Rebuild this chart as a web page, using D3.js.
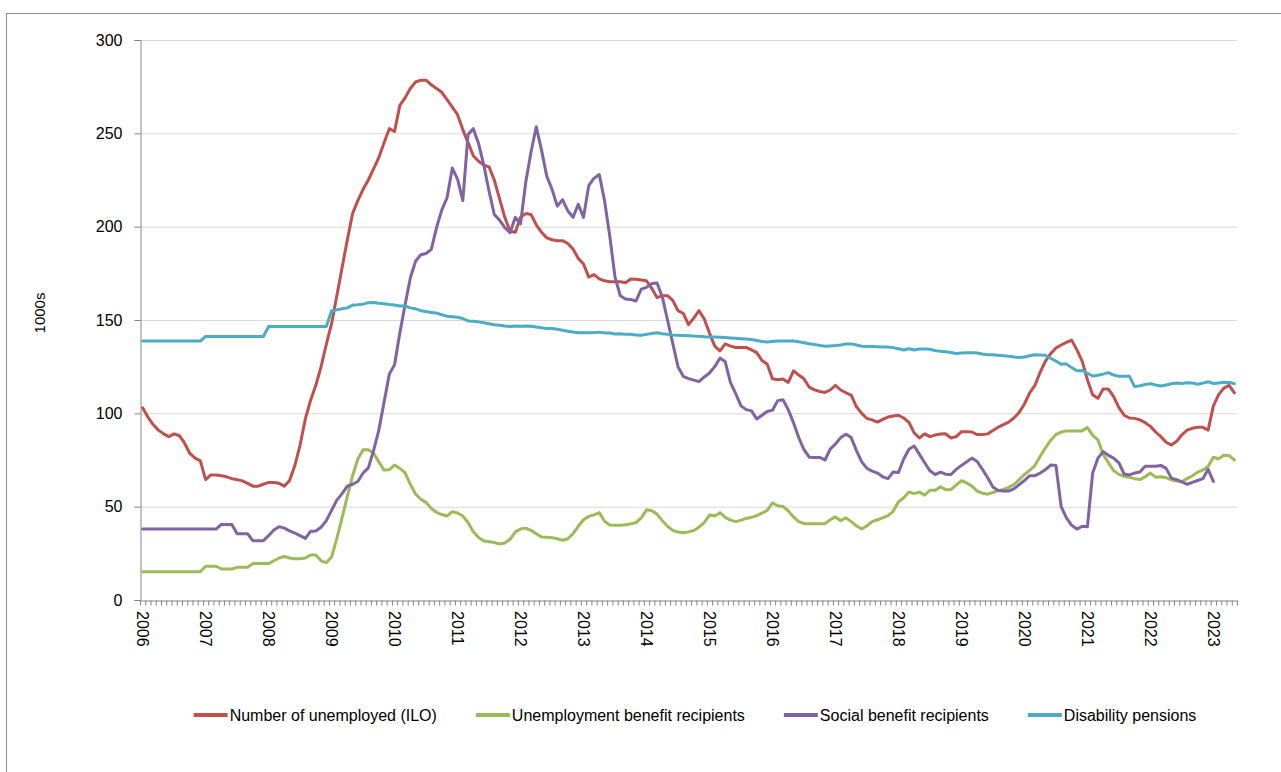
<!DOCTYPE html>
<html>
<head>
<meta charset="utf-8">
<script src="https://cdn.jsdelivr.net/npm/d3@7"></script>
<style>
  body { margin: 0; background: #fff; }
  svg { display: block; font-family: "Liberation Sans", Arial, sans-serif; }
</style>
</head>
<body>
<svg id="chart" width="1281" height="772"></svg>
<script>
// monthly values, Jan 2006 - May 2023 (thousands)
const yearLabels = [2006, 2007, 2008, 2009, 2010, 2011, 2012, 2013, 2014, 2015, 2016, 2017, 2018, 2019, 2020, 2021, 2022, 2023];
const yTicks = [0, 50, 100, 150, 200, 250, 300];

const unemployedILO = [
  103, 98, 94, 91, 89, 87.5, 89, 88, 84, 78.5, 76, 74.5,
  64.5, 67, 67, 66.6, 66, 65, 64.5, 63.8, 62.5, 61, 61, 62,
  63, 63, 62.5, 61, 64, 72, 83, 97, 107, 115, 125, 137,
  148, 163, 178, 193, 207, 214, 220, 225, 231, 237, 245, 252.5,
  251, 265, 269, 274, 277.5, 278.5, 278.5, 276, 274, 272, 268, 264,
  260, 252, 245, 238, 235, 233, 232, 225, 215, 205, 197.5, 197,
  205, 207, 206.5, 201, 197, 194, 193, 192.5, 192.5, 191, 188, 183,
  180, 173, 174.3, 172, 171, 170.5, 170.5, 170.5, 170, 172, 171.8, 171.4,
  171, 167, 162, 163, 163, 160.5, 155, 153.5, 147.5, 151, 155, 150.5,
  143, 136, 133.5, 137.2, 136, 135.3, 135.3, 135.3, 134, 132.5, 128.3, 126.3,
  118.5, 118, 118.4, 116.5, 122.8, 120.5, 118.5, 114, 112.6, 111.7, 111.2, 112.5,
  115, 112.5, 111, 109.8, 103.5, 100, 97.2, 96.5, 95.3, 96.8, 98, 98.6,
  99, 97.5, 95.2, 89.5, 86.8, 89, 87.5, 88.4, 88.9, 89, 86.8, 87.5,
  90.2, 90.2, 90, 88.6, 88.6, 89, 90.8, 92.6, 94, 95.3, 97.5, 100.5,
  105, 111, 115, 122, 128, 132, 135, 136.6, 138, 139.2, 134, 128,
  118, 110, 108, 113, 113, 109, 103, 99, 97.5, 97.3, 96.5, 95,
  93, 90, 87.5, 84.5, 83, 85, 88.5, 91, 92, 92.5, 92.5, 91,
  104, 110, 113.5, 115, 111
];

const benefitRecipients = [
  15.2, 15.2, 15.2, 15.2, 15.2, 15.2, 15.2, 15.2, 15.2, 15.2, 15.2, 15.2,
  18.1, 18.1, 18.1, 16.6, 16.6, 16.6, 17.5, 17.5, 17.5, 19.5, 19.5, 19.5,
  19.5, 21, 22.5, 23.3, 22.5, 22.1, 22.1, 22.5, 24.1, 24.1, 21, 20,
  23, 33, 44, 55.5, 66.5, 75.5, 80.5, 80.5, 78.6, 74, 69.6, 69.8,
  72.3, 70.5, 68.2, 62, 56.8, 54, 52.3, 49, 47, 45.8, 45, 47.3,
  46.6, 45, 41.5, 36.6, 33.5, 31.6, 31.2, 30.8, 30, 30.5, 32.5, 36.5,
  38, 38.5, 37.3, 35.5, 33.7, 33.6, 33.4, 32.8, 32, 32.8, 35.5, 39.5,
  43, 44.8, 45.6, 46.8, 42.2, 40.2, 40, 40, 40.3, 40.8, 41.5, 44,
  48.3, 47.8, 46, 42.5, 39.5, 37.3, 36.4, 36, 36.5, 37.2, 39, 41.5,
  45.5, 45, 46.8, 44.3, 42.8, 42, 42.8, 43.7, 44.3, 45.2, 46.5, 48,
  52, 50.5, 50.1, 47.8, 44.5, 42, 41, 40.9, 40.9, 40.9, 40.9, 43,
  44.5, 42.5, 44, 42, 39.8, 38, 39.8, 42, 43, 44, 45.2, 47.5,
  52.6, 54.8, 57.9, 57, 57.8, 56.2, 58.8, 58.8, 60.6, 59.1, 59.2, 61.5,
  63.9, 62.7, 61, 58.3, 57.2, 56.7, 57.6, 58.6, 59.2, 60.3, 61.8, 64.5,
  67.2, 69.5, 72, 77, 81.5, 85.5, 88.6, 90, 90.6, 90.6, 90.6, 90.6,
  92.4, 88.2, 85.8, 78, 73.5, 69.3, 67.3, 66.3, 65.7, 65, 64.5, 66,
  68, 65.8, 66, 65.5, 64.3, 63.8, 63.5, 65, 66.6, 68.5, 69.6, 71.5,
  76.5, 75.7, 77.6, 77.3, 75
];

// last value Jan 2023
const socialBenefit = [
  38, 38, 38, 38, 38, 38, 38, 38, 38, 38, 38, 38,
  38, 38, 38, 40.5, 40.5, 40.5, 35.5, 35.5, 35.5, 31.8, 31.8, 31.8,
  34.5, 37.5, 39.3, 38.5, 37, 35.8, 34.5, 33, 36.8, 37, 39, 42.5,
  48, 53.5, 57, 61, 62, 63.5, 68, 70.8, 80, 91, 106, 121,
  126, 143, 158, 172.5, 181.5, 185, 185.6, 187.8, 199.5, 209, 215.5, 231.4,
  225.5, 214, 249.4, 252.5, 244.5, 233, 219, 206.5, 203.5, 199.5, 196.8, 205,
  201.5, 224, 240, 253.5, 241, 227, 220, 211, 214.5, 208.5, 205, 212,
  205, 222, 226, 227.9, 214, 195, 173, 163, 161.2, 161, 160.2, 166.5,
  167.5, 169.5, 169.8, 162.5, 150, 137.5, 125, 119.8, 118.6, 117.8, 117, 119.5,
  121.6, 125, 129.6, 127.6, 116.5, 110.5, 104, 102, 101.3, 97, 99, 101,
  101.7, 106.8, 107.3, 102, 95, 87, 80.5, 76.5, 76.4, 76.4, 75, 80.8,
  83.6, 87, 88.8, 87, 80, 74, 70.5, 69, 68, 66, 65, 68.6,
  68.3, 75.5, 80.8, 82.5, 78, 73.5, 69.2, 67.2, 68.5, 67.4, 67.2, 70,
  72.1, 74, 76, 74.2, 70, 65.5, 60.5, 58.7, 58.4, 58.4, 59.5, 61.8,
  64, 66.6, 66.6, 68, 69.8, 72.3, 72.1, 50, 44, 40, 38, 39.5,
  39.3, 68, 76, 79.5, 77.5, 76, 73.5, 67.5, 67, 68, 68.6, 71.7,
  71.7, 71.7, 72.1, 70.5, 65.3, 64.5, 63.3, 62, 63, 64, 65, 70,
  63.5
];

const disabilityPensions = [
  138.7, 138.7, 138.7, 138.7, 138.7, 138.7, 138.7, 138.7, 138.7, 138.7, 138.7, 138.7,
  141.2, 141.2, 141.2, 141.2, 141.2, 141.2, 141.2, 141.2, 141.2, 141.2, 141.2, 141.2,
  146.5, 146.5, 146.5, 146.5, 146.5, 146.5, 146.5, 146.5, 146.5, 146.5, 146.5, 146.5,
  155, 155.5, 156, 156.5, 158, 158.2, 158.5, 159.3, 159.4, 159, 158.7, 158.3,
  158, 157.5, 157.5, 156.5, 156, 155, 154.5, 154, 153.7, 152.8, 152, 151.8,
  151.5, 150.8, 149.5, 149.3, 149, 148.5, 148, 147.5, 147.2, 146.8, 146.5, 146.8,
  146.6, 146.8, 146.7, 146.2, 145.8, 145.5, 145.4, 145, 144.5, 144, 143.6, 143.2,
  143.2, 143.2, 143.3, 143.5, 143.1, 143, 142.5, 142.6, 142.3, 142.4, 141.9, 141.8,
  142.3, 142.8, 143.2, 142.6, 142.3, 142, 141.8, 141.7, 141.6, 141.4, 141.3, 141,
  140.9, 140.9, 140.8, 140.6, 140.4, 140.2, 140, 139.8, 139.5, 139, 138.5, 138.2,
  138.5, 138.7, 138.7, 138.7, 138.7, 138.3, 137.8, 137.3, 136.9, 136.4, 135.9, 136.1,
  136.3, 136.6, 137.2, 137.2, 136.6, 135.9, 135.8, 135.8, 135.7, 135.6, 135.5, 135.2,
  134.6, 133.9, 134.6, 133.9, 134.5, 134.5, 134.3, 133.6, 133.2, 133, 132.6, 132.1,
  132.3, 132.4, 132.4, 132.3, 131.8, 131.4, 131.4, 131.1, 130.9, 130.6, 130.2, 129.9,
  130.2, 130.8, 131.4, 131.3, 131.1, 129.5, 128, 126.3, 126.5, 124.5, 122.8, 123,
  121.5, 120, 120.4, 121, 121.8, 120.5, 119.8, 119.8, 119.8, 114.3, 114.8, 115.4,
  115.9, 115.2, 114.6, 115.2, 115.8, 116.3, 116, 116.4, 116.2, 115.6, 116.2, 116.9,
  116, 116.3, 116.6, 116.5, 115.9
];

const seriesNames = ["Number of unemployed (ILO)", "Unemployment benefit recipients", "Social benefit recipients", "Disability pensions"];
const seriesColors = ["#C0504D", "#9BBB59", "#8064A2", "#4BACC6"];
const seriesData = [unemployedILO, benefitRecipients, socialBenefit, disabilityPensions];

const svg = d3.select("#chart"),
    margin = { top: 40, right: 44, bottom: 172, left: 140 },
    width = +svg.attr("width") - margin.left - margin.right,
    height = +svg.attr("height") - margin.top - margin.bottom;

svg.append("rect")
    .attr("width", 1281).attr("height", 772)
    .attr("fill", "#fff");

// chart area border (right/bottom run off the picture)
svg.append("rect")
    .attr("x", 6.5).attr("y", 13.5)
    .attr("width", 1400).attr("height", 900)
    .attr("fill", "none")
    .attr("stroke", "#8c8c8c")
    .attr("stroke-width", 1);

const chart = svg.append("g").attr("transform", `translate(${margin.left},${margin.top})`);

const nMonths = unemployedILO.length;
const x = d3.scaleBand().domain(d3.range(nMonths)).range([0, width]);
const xTick = d3.scaleLinear().domain([0, nMonths]).range([0, width]);
const y = d3.scaleLinear().domain([0, 300]).range([height, 0]);

// gridlines
chart.append("g")
    .selectAll("line")
    .data(yTicks.filter(d => d > 0))
    .join("line")
    .attr("x1", 0).attr("x2", width)
    .attr("y1", d => y(d) + 0.5).attr("y2", d => y(d) + 0.5)
    .attr("stroke", "#d9d9d9")
    .attr("stroke-width", 1);

// y axis
const yAxisGroup = chart.append("g")
    .attr("transform", "translate(0.5,0)")
    .call(d3.axisLeft(y).tickValues(yTicks).tickSize(6).tickPadding(12));
yAxisGroup.select(".domain").attr("stroke", "#868686");
yAxisGroup.selectAll(".tick line").attr("stroke", "#868686");
yAxisGroup.selectAll(".tick text")
    .attr("fill", "#000")
    .style("font-size", "16px")
    .style("font-family", "'Liberation Sans', Arial, sans-serif");

// x axis: one tick per month
const xAxisGroup = chart.append("g")
    .attr("transform", `translate(0,${height + 0.5})`)
    .call(d3.axisBottom(xTick).tickValues(d3.range(nMonths + 1)).tickFormat("").tickSizeInner(5).tickSizeOuter(0));
xAxisGroup.select(".domain").attr("stroke", "#868686");
xAxisGroup.selectAll(".tick line").attr("stroke", "#868686");

chart.append("g")
    .selectAll("text")
    .data(yearLabels)
    .join("text")
    .attr("transform", (d, i) => `translate(${x(i * 12) + x.bandwidth() / 2},${height + 11}) rotate(90)`)
    .attr("text-anchor", "start")
    .attr("dominant-baseline", "central")
    .style("font-size", "16px")
    .attr("fill", "#000")
    .text(d => d);

// y label
svg.append("text")
    .attr("transform", "translate(39,313) rotate(-90)")
    .attr("text-anchor", "middle")
    .attr("dominant-baseline", "central")
    .style("font-size", "15px")
    .attr("fill", "#000")
    .text("1000s");

// lines
const line = d3.line()
    .defined(d => d != null)
    .x((d, i) => x(i) + x.bandwidth() / 2)
    .y(d => y(d));

seriesData.forEach((values, k) => {
    chart.append("path")
        .datum(values)
        .attr("fill", "none")
        .attr("stroke", seriesColors[k])
        .attr("stroke-width", 3)
        .attr("stroke-linejoin", "round")
        .attr("stroke-linecap", "round")
        .attr("d", line);
});

// legend
const legend = svg.append("g").attr("transform", "translate(0,715)");
const items = legend.selectAll("g")
    .data(seriesNames)
    .join("g");
items.append("line")
    .attr("x1", 0).attr("x2", 34)
    .attr("stroke", (d, i) => seriesColors[i])
    .attr("stroke-width", 4);
items.append("text")
    .attr("x", 36)
    .attr("dominant-baseline", "central")
    .style("font-size", "16px")
    .attr("fill", "#000")
    .text(d => d);

let offset = 0;
const itemX = [];
items.each(function () {
    itemX.push(offset);
    offset += this.getBBox().width + 39;
});
const legendWidth = offset - 39;
const legendStart = 695 - legendWidth / 2;
items.attr("transform", (d, i) => `translate(${legendStart + itemX[i]},0)`);
</script>
</body>
</html>
